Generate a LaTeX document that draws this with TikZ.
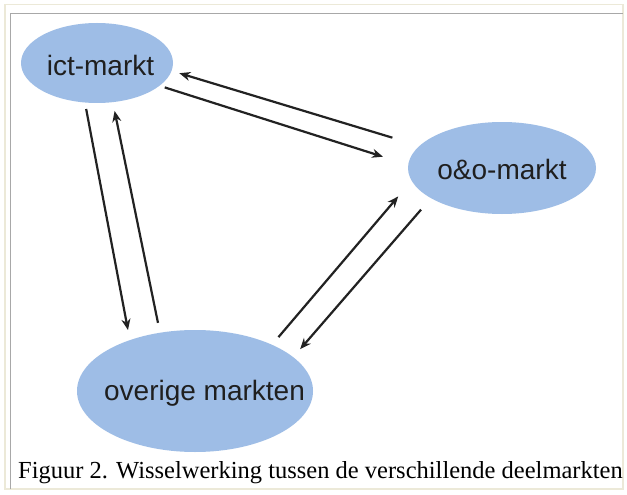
\documentclass[tikz,border=0pt]{standalone}
\usepackage{fontspec}
\setmainfont{Liberation Serif}
\newfontfamily\marktfont{Liberation Sans}
\usetikzlibrary{shapes.geometric,arrows.meta}
\definecolor{marktblauw}{HTML}{9EBDE6}
\definecolor{kaderbeige}{HTML}{ECE9D8}
\definecolor{kadergrijs}{HTML}{A8A8A8}
\definecolor{pijlgrijs}{HTML}{222222}

\begin{document}
\begin{tikzpicture}[x=1pt,y=-1pt,
	markt/.style={ellipse, fill=marktblauw, inner sep=0pt, outer sep=0pt},
	marktlabel/.style={font=\marktfont\fontsize{28}{28}\selectfont, text=black!88, inner sep=0pt},
	pijl/.style={draw=pijlgrijs, line width=2.2pt, -{Stealth[length=11pt,width=9pt]}}]
	\useasboundingbox (0,0) rectangle (627,495);
	\fill[white] (0,0) rectangle (627,495);
	\draw[kaderbeige, line width=1.5pt] (5,4.5) rectangle (623,489);
	\draw[kadergrijs, line width=1.5pt] (10.5,489) -- (10.5,13.3) -- (623,13.3);

	\node[markt, minimum width=152pt, minimum height=80pt,
		label={[marktlabel, xshift=3.5pt, yshift=-2pt]center:ict-markt}] (ict) at (97,63) {};
	\node[markt, minimum width=188pt, minimum height=92pt,
		label={[marktlabel, yshift=-1.3pt]center:o\&o-markt}] (oo) at (502,168) {};
	\node[markt, minimum width=236pt, minimum height=122pt,
		label={[marktlabel, xshift=9.5pt, yshift=-2.4pt]center:overige markten}] (overig) at (195,391) {};

	\draw[pijl, shorten <=5.5pt, shorten >=26.5pt] (ict.-20.7) -- (oo.178.1);
	\draw[pijl, shorten <=28.4pt, shorten >=8.2pt] (oo.165.25) -- (ict.-6.65);
	\draw[pijl, shorten <=6.6pt, shorten >=10.3pt] (ict.-107.2) -- (overig.142);
	\draw[pijl, shorten <=10.1pt, shorten >=9pt] (overig.121.8) -- (ict.-68.8);
	\draw[pijl, shorten <=10pt, shorten >=20.7pt] (overig.31.2) -- (oo.-172.3);
	\draw[pijl, shorten <=15.2pt, shorten >=10.6pt] (oo.-157.8) -- (overig.19.1);

	\node[anchor=base west, inner sep=0pt, font=\fontsize{24.5}{24.5}\selectfont] (bijschrift) at (18,478)
		{Figuur 2. Wisselwerking tussen de verschillende deelmarkten};
\end{tikzpicture}
\end{document}
